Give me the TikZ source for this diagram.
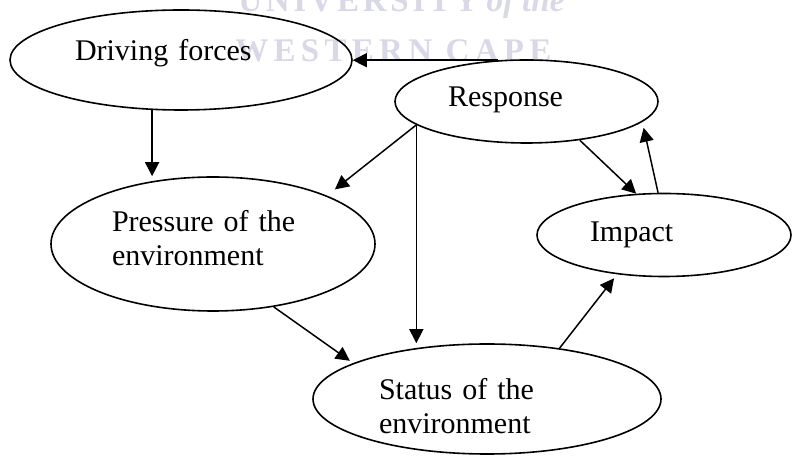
\documentclass[tikz,border=0pt]{standalone}
\usepackage{fontspec}
\setmainfont{Liberation Serif}
\usepackage{tikz}
\usetikzlibrary{arrows.meta,shapes.geometric}
\definecolor{WaterGray}{HTML}{D8D8E6}

\begin{document}
\begin{tikzpicture}[
    x=0.5pt, y=-0.5pt,
    font=\fontsize{15pt}{17pt}\selectfont,
    oval/.style={ellipse, draw=black, line width=0.8pt, inner sep=0pt, align=left, text height=10pt},
    wmark/.style={text=WaterGray, inner sep=0pt, anchor=base west, font=\fontsize{16.5pt}{16.5pt}\selectfont\bfseries},
    arr/.style={-{Triangle[length=7pt, width=7pt]}, line width=0.75pt, draw=black}
]
\useasboundingbox (0,0) rectangle (792,458);
\node[wmark] (wmtop) at (238,12) {{\addfontfeature{LetterSpace=11}UNIVERSITY} \textit{of the}};
\node[wmark] (wmbot) at (235,62) {\addfontfeature{LetterSpace=16}WESTERN CAPE};
\node[oval, minimum width=171pt, minimum height=50pt, text width=106pt, text depth=9pt] (drv) at (181,60) {Driving forces};
\node[oval, minimum width=131.5pt, minimum height=41.5pt, text width=78.5pt, text depth=4.5pt] (resp) at (526.5,101.5) {Response};
\node[oval, minimum width=162pt, minimum height=67pt, text width=101pt, text depth=22pt] (prs) at (213,244) {Pressure of the\\environment};
\node[oval, minimum width=127pt, minimum height=41.5pt, text width=74pt, text depth=3pt] (imp) at (664,235) {Impact};
\node[oval, minimum width=174pt, minimum height=55pt, text width=108pt, text depth=9pt] (sts) at (487,399) {Status of the\\environment};
\draw[arr] (resp.125) -- (resp.125 -| drv.east);
\draw[arr] (drv.240) -- (drv.240 |- prs.north);
\draw[arr, shorten >=5pt] (resp.192) -- (prs.23);
\draw[arr] (resp.192) -- (resp.192 |- sts.north);
\draw[arr] (resp.-36) -- (imp.124);
\draw[arr, shorten >=3pt] (imp.98) -- (resp.-10);
\draw[arr, shorten >=2pt] (prs.-46) -- (sts.165);
\draw[arr, shorten >=2.5pt] (sts.35) -- (imp.220);
\end{tikzpicture}
\end{document}
